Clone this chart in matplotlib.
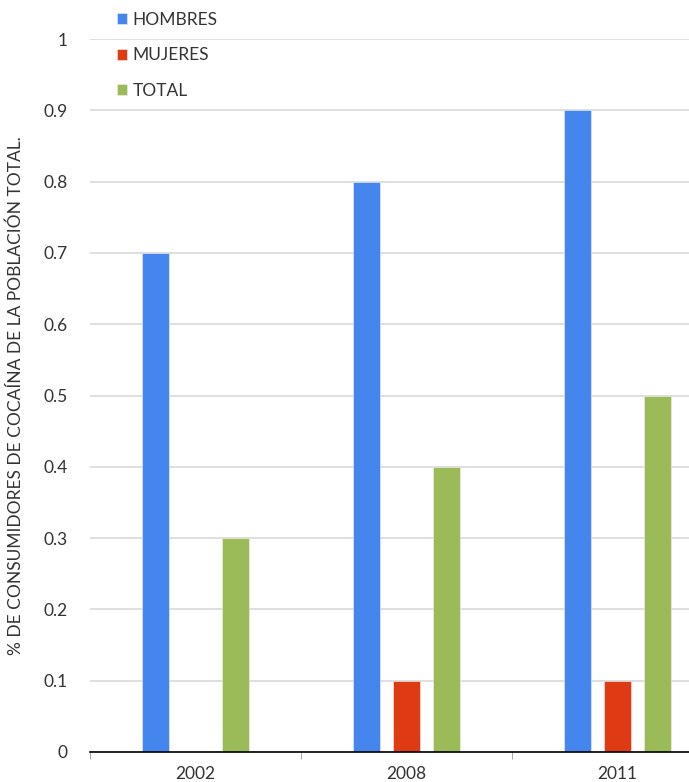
import matplotlib.pyplot as plt
import numpy as np

years = ['2002', '2008', '2011']
hombres = [0.7, 0.8, 0.9]
mujeres = [0.0, 0.1, 0.1]
total = [0.3, 0.4, 0.5]

series = [('HOMBRES', hombres, '#4485EE'),
          ('MUJERES', mujeres, '#DE3A14'),
          ('TOTAL', total, '#9BBB59')]

plt.rcParams['font.family'] = ['Lato', 'DejaVu Sans']
text_color = '#333333'

fig = plt.figure(figsize=(6.89, 7.82), dpi=100)
ax = fig.add_axes([90 / 689, 30 / 782, 633 / 689, 713 / 782])

x = np.arange(len(years))
step = 0.19
width = 0.128
for i, (name, vals, color) in enumerate(series):
    ax.bar(x + (i - 1) * step, vals, width, color=color, label=name, zorder=3,
           edgecolor='#f2f2f2', linewidth=0.4)

ax.set_ylim(0, 1)
ax.set_xlim(-0.5, 2.5)
ax.set_yticks(np.arange(0, 1.01, 0.1))
ax.set_yticklabels(['0', '0.1', '0.2', '0.3', '0.4', '0.5', '0.6', '0.7', '0.8', '0.9', '1'])
ax.yaxis.grid(True, color='#d9d9d9', linewidth=1.2, zorder=0)
ax.tick_params(axis='y', length=0, pad=16, labelsize=12.5, labelcolor=text_color)

ax.set_xticks(x)
ax.set_xticklabels(years)
ax.tick_params(axis='x', length=0, pad=10, labelsize=12.5, labelcolor=text_color)
ax.set_xticks([-0.5, 0.5, 1.5], minor=True)
ax.tick_params(axis='x', which='minor', length=5, color='#999999')

for side in ['left', 'right', 'top']:
    ax.spines[side].set_visible(False)
ax.spines['bottom'].set_color('black')
ax.spines['bottom'].set_linewidth(1.2)
ax.spines['bottom'].set_zorder(4)

ax.set_ylabel('% DE CONSUMIDORES DE COCAÍNA DE LA POBLACIÓN TOTAL.',
              fontsize=12.5, color=text_color, labelpad=14)

fig.legend(loc='upper left', bbox_to_anchor=(110 / 689, 1 - 5 / 782), frameon=False,
           fontsize=12.5, labelcolor=text_color, handlelength=0.6, handleheight=0.6,
           handletextpad=0.3, labelspacing=1.12, borderaxespad=0)

fig.savefig('out.png', dpi=100)
